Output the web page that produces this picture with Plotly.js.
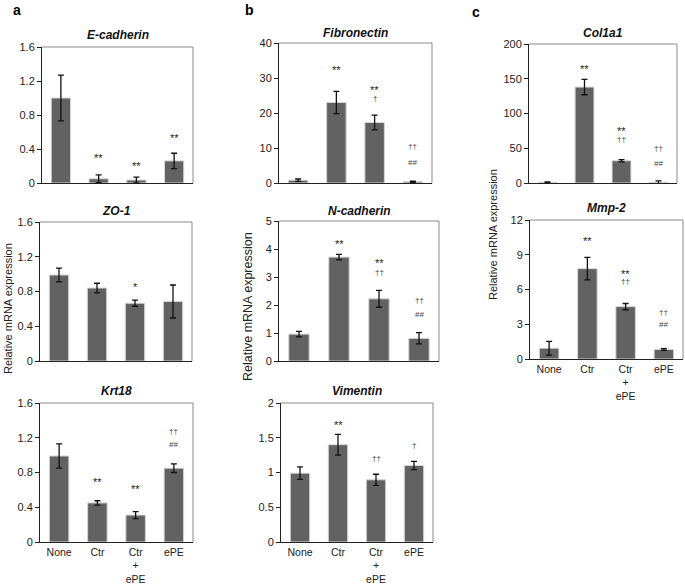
<!DOCTYPE html>
<html>
<head>
<meta charset="utf-8">
<script src="https://cdn.plot.ly/plotly-3.0.1.min.js"></script>
<style>body{margin:0;background:#fff}#plot{width:685px;height:586px}</style>
</head>
<body>
<div id="plot"></div>
<script>
var groups = ["None", "Ctr", "Ctr<br>+<br>ePE", "ePE"];

// means and error bars
var ecadMean = [1.0, 0.05, 0.035, 0.26];
var ecadErr = [0.27, 0.045, 0.035, 0.09];
var zo1Mean = [0.99, 0.84, 0.665, 0.685];
var zo1Err = [0.08, 0.055, 0.035, 0.19];
var krt18Mean = [0.99, 0.45, 0.31, 0.85];
var krt18Err = [0.14, 0.025, 0.04, 0.05];
var fnMean = [0.8, 23.0, 17.3, 0.35];
var fnErr = [0.35, 3.2, 2.1, 0.15];
var ncadMean = [0.96, 3.71, 2.22, 0.81];
var ncadErr = [0.1, 0.1, 0.3, 0.2];
var vimMean = [0.99, 1.40, 0.895, 1.10];
var vimErr = [0.09, 0.15, 0.08, 0.06];
var colMean = [1.0, 138, 32, 1.0];
var colErr = [0.5, 11, 1.5, 2];
var mmpMean = [0.93, 7.8, 4.52, 0.82];
var mmpErr = [0.6, 0.97, 0.27, 0.07];

// significance marks: [group index, text, height]
var ecadMarks = [[1, "**", 0.33], [2, "**", 0.24], [3, "**", 0.57]];
var zo1Marks = [[2, "*", 0.89]];
var krt18Marks = [[1, "**", 0.725], [2, "**", 0.645], [3, "††", 1.27], [3, "##", 1.126]];
var fnMarks = [[1, "**", 33], [2, "**", 27.4], [2, "†", 24.1], [3, "††", 10.3], [3, "##", 5.8]];
var ncadMarks = [[1, "**", 4.29], [2, "**", 3.6], [2, "††", 3.17], [3, "††", 2.15], [3, "##", 1.67]];
var vimMarks = [[1, "**", 1.73], [2, "††", 1.2], [3, "†", 1.39]];
var colMarks = [[1, "**", 169], [2, "**", 79.5], [2, "††", 62], [3, "††", 49.5], [3, "##", 28.6]];
var mmpMarks = [[1, "**", 10.43], [2, "**", 7.6], [2, "††", 6.66], [3, "††", 4.03], [3, "##", 2.94]];

var W = 685, H = 586;

// box = [left, right, top, bottom] in pixels
var panels = [
	{gene: "E-cadherin", mean: ecadMean, err: ecadErr, marks: ecadMarks, range: [0, 1.6], dtick: 0.4, box: [42, 193, 47, 183], labels: false, ty: 35},
	{gene: "ZO-1", mean: zo1Mean, err: zo1Err, marks: zo1Marks, range: [0, 1.6], dtick: 0.4, box: [40, 192, 222, 361], labels: false, ty: 211},
	{gene: "Krt18", mean: krt18Mean, err: krt18Err, marks: krt18Marks, range: [0, 1.6], dtick: 0.4, box: [40, 193, 403, 542], labels: true, ty: 391},
	{gene: "Fibronectin", mean: fnMean, err: fnErr, marks: fnMarks, range: [0, 40], dtick: 10, box: [279, 432, 43, 183], labels: false, ty: 33},
	{gene: "N-cadherin", mean: ncadMean, err: ncadErr, marks: ncadMarks, range: [0, 5], dtick: 1, box: [279, 439, 221, 361], labels: false, ty: 211},
	{gene: "Vimentin", mean: vimMean, err: vimErr, marks: vimMarks, range: [0, 2], dtick: 0.5, box: [281, 433, 403, 542], labels: true, ty: 391},
	{gene: "Col1a1", mean: colMean, err: colErr, marks: colMarks, range: [0, 200], dtick: 50, box: [529, 677, 44, 183], labels: false, ty: 33},
	{gene: "Mmp-2", mean: mmpMean, err: mmpErr, marks: mmpMarks, range: [0, 12], dtick: 3, box: [530, 683, 220, 359], labels: true, ty: 208}
];

var traces = [];
var annotations = [];
var shapes = [];

var layout = {
	width: W,
	height: H,
	margin: {l: 0, r: 0, t: 0, b: 0},
	paper_bgcolor: "#fff",
	plot_bgcolor: "rgba(0,0,0,0)",
	showlegend: false,
	bargap: 0.49,
	font: {family: "Liberation Sans, Arial, sans-serif", color: "#222"}
};

function note(a) {
	a.showarrow = false;
	a.xanchor = a.xanchor || "center";
	a.yanchor = a.yanchor || "middle";
	annotations.push(a);
}

for (var i = 0; i < panels.length; i++) {
	var p = panels[i];
	var s = i == 0 ? "" : String(i + 1);
	var b = p.box;
	var x0 = b[0] / W, x1 = b[1] / W, y0 = 1 - b[3] / H, y1 = 1 - b[2] / H;

	traces.push({
		type: "bar",
		x: [0, 1, 2, 3],
		y: p.mean,
		xaxis: "x" + s,
		yaxis: "y" + s,
		marker: {color: "#626262", line: {color: "#d6d6d6", width: 1}},
		error_y: {type: "data", array: p.err, visible: true, color: "#111", thickness: 1.3, width: 3},
		hoverinfo: "skip"
	});

	layout["xaxis" + s] = {
		domain: [x0, x1],
		range: [-0.5, 3.5],
		anchor: "y" + s,
		showline: true,
		linecolor: "#222",
		linewidth: 1,
		ticks: "",
		tickvals: [0, 1, 2, 3],
		ticktext: groups,
		showticklabels: p.labels,
		tickfont: {size: 10.5, color: "#222"},
		showgrid: false,
		zeroline: false
	};
	layout["yaxis" + s] = {
		domain: [y0, y1],
		range: p.range,
		tick0: 0,
		dtick: p.dtick,
		anchor: "x" + s,
		showline: true,
		linecolor: "#222",
		linewidth: 1,
		ticks: "outside",
		ticklen: 4,
		tickcolor: "#222",
		tickfont: {size: 11, color: "#222"},
		showgrid: false,
		zeroline: false
	};

	// grey frame on top and right, like the plot area border
	shapes.push({type: "line", xref: "paper", yref: "paper", x0: x0, x1: x1, y0: y1, y1: y1,
		line: {color: "#8a8a8a", width: 1}});
	shapes.push({type: "line", xref: "paper", yref: "paper", x0: x1, x1: x1, y0: y0, y1: y1,
		line: {color: "#8a8a8a", width: 1}});

	note({
		xref: "paper", yref: "paper",
		x: (b[0] + b[1]) / 2 / W, y: 1 - p.ty / H,
		text: "<b><i>" + p.gene + "</i></b>",
		font: {size: 12, color: "#111"}
	});

	for (var j = 0; j < p.marks.length; j++) {
		var m = p.marks[j];
		var star = m[1].indexOf("*") >= 0;
		note({
			xref: "x" + s, yref: "y" + s,
			x: m[0], y: m[2],
			text: m[1],
			yshift: star ? -3 : 0,
			font: {size: star ? 11 : 8, color: star ? "#222" : "#444"}
		});
	}
}

// panel letters and axis titles
var letters = [["a", 17, 10], ["b", 249, 10], ["c", 476, 12]];
letters.forEach(function (l) {
	note({xref: "paper", yref: "paper", x: l[1] / W, y: 1 - l[2] / H, text: "<b>" + l[0] + "</b>",
		font: {size: 14, color: "#000"}});
});

var yTitles = [[8, 309, 11], [248, 307, 12.5], [493, 235, 11]];
yTitles.forEach(function (t) {
	note({xref: "paper", yref: "paper", x: t[0] / W, y: 1 - t[1] / H, text: "Relative mRNA expression",
		textangle: -90, font: {size: t[2], color: "#222"}});
});

layout.annotations = annotations;
layout.shapes = shapes;

Plotly.newPlot("plot", traces, layout, {staticPlot: true});
</script>
</body>
</html>
